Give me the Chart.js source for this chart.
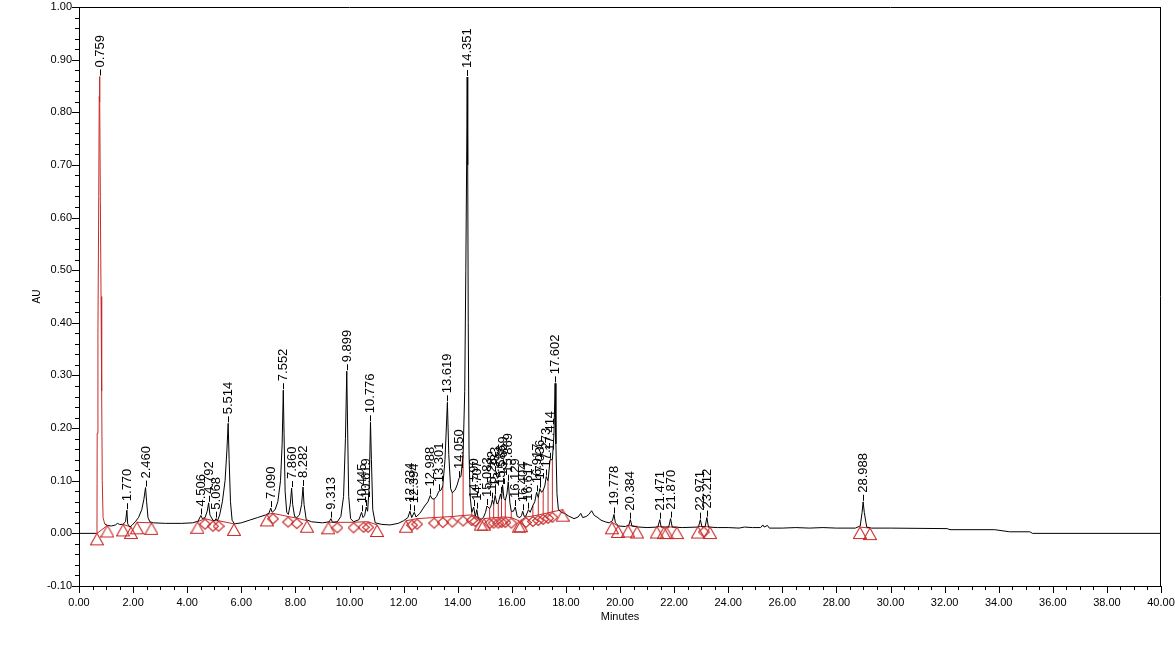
<!DOCTYPE html>
<html><head><meta charset="utf-8">
<script src="https://cdn.jsdelivr.net/npm/chart.js@4.4.1/dist/chart.umd.min.js"></script>
<style>html,body{margin:0;padding:0;background:#fff;overflow:hidden}#wrap{width:1175px;height:649px}</style>
</head><body><div id="wrap"><canvas id="c" width="1175" height="649"></canvas></div>
<script>
// ---- trace (Minutes, AU) ----
const traceT = [0.00,0.64,0.665,0.672,0.70,0.73,0.748,0.759,0.772,0.79,0.815,0.838,0.86,0.89,0.95,1.05,1.20,1.35,1.42,1.50,1.62,1.72,1.770,1.80,1.88,1.97,2.08,2.20,2.32,2.40,2.460,2.50,2.55,2.62,2.75,3.20,3.80,4.20,4.40,4.506,4.56,4.66,4.74,4.792,4.84,4.95,5.02,5.068,5.12,5.20,5.30,5.40,5.47,5.514,5.55,5.60,5.66,5.75,6.00,6.30,6.60,6.90,7.02,7.090,7.14,7.25,7.35,7.45,7.51,7.552,7.58,7.62,7.68,7.74,7.81,7.860,7.90,7.97,8.05,8.15,8.23,8.282,8.32,8.40,8.60,9.00,9.25,9.313,9.37,9.55,9.68,9.78,9.85,9.899,9.93,9.97,10.04,10.15,10.35,10.445,10.50,10.56,10.619,10.67,10.73,10.776,10.81,10.86,10.95,11.20,11.50,11.80,12.00,12.16,12.234,12.30,12.394,12.46,12.60,12.78,12.90,12.988,13.05,13.13,13.22,13.301,13.38,13.45,13.53,13.619,13.67,13.74,13.80,13.90,13.98,14.050,14.12,14.20,14.26,14.30,14.33,14.351,14.37,14.39,14.42,14.46,14.52,14.590,14.65,14.707,14.76,14.85,14.95,15.03,15.083,15.18,15.23,15.282,15.33,15.383,15.45,15.50,15.586,15.62,15.659,15.71,15.76,15.82,15.869,15.93,15.98,16.06,16.129,16.20,16.30,16.36,16.404,16.46,16.52,16.617,16.68,16.78,16.85,16.917,16.98,17.036,17.10,17.16,17.22,17.273,17.34,17.414,17.50,17.56,17.602,17.63,17.67,17.72,17.82,17.95,18.10,18.30,18.45,18.55,18.62,18.75,18.85,18.95,19.05,19.15,19.30,19.45,19.60,19.72,19.778,19.83,19.95,20.20,20.33,20.384,20.44,20.70,21.00,21.40,21.471,21.52,21.80,21.870,21.93,22.30,22.90,22.971,23.03,23.15,23.212,23.27,23.60,24.00,24.40,24.60,24.90,25.20,25.28,25.33,25.45,25.52,26.00,26.50,27.00,27.50,28.00,28.70,28.88,28.95,28.988,29.03,29.12,29.30,30.00,32.10,32.20,33.85,34.40,35.15,35.25,40.00];
const traceV = [0.000,0.000,0.008,0.190,0.380,0.640,0.830,0.868,0.820,0.630,0.450,0.270,0.100,0.030,0.018,0.015,0.014,0.016,0.019,0.017,0.017,0.022,0.044,0.018,0.012,0.016,0.022,0.030,0.045,0.065,0.087,0.060,0.030,0.022,0.020,0.019,0.019,0.020,0.023,0.034,0.028,0.030,0.042,0.058,0.035,0.025,0.024,0.028,0.024,0.035,0.060,0.100,0.160,0.209,0.140,0.060,0.025,0.018,0.020,0.025,0.030,0.035,0.038,0.048,0.040,0.045,0.060,0.100,0.170,0.272,0.190,0.080,0.040,0.036,0.055,0.086,0.055,0.032,0.030,0.035,0.055,0.088,0.055,0.026,0.022,0.020,0.022,0.028,0.021,0.022,0.032,0.070,0.180,0.308,0.200,0.070,0.028,0.022,0.026,0.040,0.030,0.034,0.050,0.042,0.090,0.211,0.140,0.045,0.020,0.017,0.016,0.019,0.024,0.030,0.042,0.030,0.040,0.031,0.038,0.052,0.060,0.072,0.066,0.065,0.070,0.080,0.082,0.090,0.140,0.249,0.150,0.085,0.077,0.082,0.092,0.105,0.108,0.150,0.270,0.500,0.700,0.867,0.700,0.400,0.150,0.070,0.040,0.050,0.032,0.045,0.028,0.026,0.030,0.040,0.052,0.047,0.052,0.064,0.055,0.072,0.056,0.058,0.075,0.065,0.092,0.066,0.063,0.075,0.098,0.058,0.042,0.042,0.050,0.032,0.030,0.034,0.042,0.032,0.033,0.045,0.040,0.053,0.060,0.078,0.068,0.085,0.078,0.082,0.090,0.108,0.100,0.140,0.140,0.190,0.285,0.170,0.075,0.046,0.040,0.038,0.033,0.028,0.031,0.038,0.030,0.032,0.036,0.043,0.034,0.031,0.025,0.022,0.020,0.024,0.036,0.020,0.014,0.013,0.016,0.026,0.014,0.012,0.011,0.012,0.026,0.012,0.012,0.028,0.012,0.011,0.012,0.026,0.012,0.013,0.030,0.012,0.011,0.011,0.010,0.012,0.011,0.011,0.016,0.012,0.015,0.010,0.010,0.011,0.010,0.011,0.010,0.010,0.014,0.040,0.060,0.040,0.012,0.010,0.010,0.009,0.007,0.007,0.003,0.003,0.000,0.000];

// ---- peak labels ----
const peakNames = ["0.759","1.770","2.460","4.506","4.792","5.068","5.514","7.090","7.552","7.860","8.282","9.313","9.899","10.445","10.619","10.776","12.234","12.394","12.988","13.301","13.619","14.050","14.351","14.590","14.707","15.083","15.282","15.383","15.586","15.659","15.869","16.129","16.404","16.617","16.917","17.036","17.273","17.414","17.602","19.778","20.384","21.471","21.870","22.971","23.212","28.988"];
const peakHeights = [0.868,0.044,0.087,0.034,0.058,0.028,0.209,0.048,0.272,0.086,0.088,0.028,0.308,0.040,0.050,0.211,0.042,0.040,0.072,0.080,0.249,0.105,0.867,0.050,0.045,0.052,0.064,0.072,0.075,0.092,0.098,0.050,0.042,0.045,0.078,0.085,0.108,0.140,0.285,0.036,0.026,0.026,0.028,0.026,0.030,0.060];

// ---- integration marks ----
const markT = [0.665,1.05,1.63,1.92,2.14,2.68,4.38,4.66,4.95,5.16,5.73,6.95,7.17,7.73,8.05,8.43,9.22,9.55,10.15,10.52,10.69,11.02,12.09,12.31,12.50,13.13,13.45,13.80,14.20,14.52,14.65,14.85,14.97,15.18,15.33,15.50,15.62,15.76,15.98,16.26,16.34,16.52,16.78,16.98,17.16,17.34,17.50,17.88,19.70,19.93,20.30,20.63,21.36,21.62,21.72,22.10,22.88,23.10,23.33,28.87,29.24];
const markV = [0.000,0.015,0.017,0.012,0.021,0.020,0.022,0.028,0.024,0.024,0.018,0.036,0.038,0.032,0.029,0.024,0.021,0.021,0.021,0.022,0.022,0.016,0.024,0.026,0.028,0.030,0.031,0.032,0.034,0.035,0.033,0.028,0.028,0.029,0.030,0.030,0.031,0.031,0.030,0.024,0.025,0.031,0.033,0.035,0.037,0.039,0.041,0.045,0.021,0.014,0.015,0.013,0.013,0.012,0.012,0.012,0.013,0.013,0.012,0.012,0.010];
const markShape = ["T","T","T","T","T","T","T","D","D","D","T","T","D","D","D","T","T","D","D","D","D","T","T","D","D","D","D","D","D","D","D","T","T","D","D","D","D","D","D","T","T","D","D","D","D","D","D","T","T","T","T","T","T","T","T","T","T","D","T","T","T"];
const dropT   = [13.13,13.45,13.80,14.20,14.52,15.18,15.33,15.50,15.62,15.76,15.98,16.52,16.78,16.98,17.16,17.34,17.50];
const dropTop = [0.065,0.090,0.077,0.150,0.040,0.047,0.055,0.058,0.065,0.063,0.042,0.033,0.053,0.068,0.082,0.100,0.140];
const dropBot = [0.030,0.031,0.032,0.034,0.035,0.029,0.030,0.030,0.031,0.031,0.030,0.031,0.033,0.035,0.037,0.039,0.041];

const FONT = "'Liberation Sans', Arial, sans-serif";
const RED = 'rgb(200,40,40)';
const RED_PEAK = [0.60, 1.00];

const traceData = traceT.map((t,i)=>({x:t,y:traceV[i]}));
const triData = [], diaData = [], baseData = [];
let open = false;
markT.forEach((t,i)=>{
  const p = {x:t,y:markV[i]};
  if (markShape[i]==='T') triData.push(p); else diaData.push(p);
  baseData.push(p);
  if (markShape[i]==='T') {
    if (open) { baseData.push({x:t+0.0001,y:null}); open=false; } else open = true;
  }
});
const dropData = [];
dropT.forEach((t,i)=>{ dropData.push({x:t,y:dropBot[i]}); dropData.push({x:t,y:dropTop[i]}); dropData.push({x:t+0.00001,y:null}); });

function makeTri(){
  const c=document.createElement('canvas'); c.width=14; c.height=26;
  const g=c.getContext('2d'); g.strokeStyle=RED; g.lineWidth=1.1;
  g.beginPath(); g.moveTo(7,13); g.lineTo(13.5,24.5); g.lineTo(0.5,24.5); g.closePath(); g.stroke();
  return c;
}
function makeDia(){
  const c=document.createElement('canvas'); c.width=12; c.height=24;
  const g=c.getContext('2d'); g.strokeStyle=RED; g.lineWidth=1.1;
  g.beginPath(); g.moveTo(6,12.5); g.lineTo(11.5,17.5); g.lineTo(6,22.5); g.lineTo(0.5,17.5); g.closePath(); g.stroke();
  return c;
}

const framePlugin = {
  id:'frame',
  afterDraw(chart){
    const {ctx, chartArea:a, scales:{x,y}} = chart;
    ctx.save();
    ctx.strokeStyle='#000'; ctx.lineWidth=1;
    ctx.beginPath();
    ctx.moveTo(a.left, a.top+0.5); ctx.lineTo(a.right, a.top+0.5);
    ctx.moveTo(a.right-0.5, a.top); ctx.lineTo(a.right-0.5, a.bottom);
    ctx.stroke();
    ctx.beginPath();
    for (let k=0;k<=55;k++){
      const v=-0.1+k*0.02; const py=Math.round(y.getPixelForValue(v))+0.5;
      const len = (k%5===0)?7:4;
      ctx.moveTo(a.left-len, py); ctx.lineTo(a.left, py);
    }
    for (let k=0;k<=80;k++){
      const v=k*0.5; const px=Math.round(x.getPixelForValue(v))+0.5;
      const len = (k%4===0)?7:4;
      ctx.moveTo(px, a.bottom); ctx.lineTo(px, a.bottom+len);
    }
    ctx.stroke();
    ctx.restore();
  }
};
const labelPlugin = {
  id:'peaklabels',
  afterDatasetsDraw(chart){
    const {ctx, scales:{x,y}} = chart;
    ctx.save();
    ctx.fillStyle='#000'; ctx.strokeStyle='#000'; ctx.lineWidth=1;
    ctx.font = '13px ' + FONT;
    peakNames.forEach((name,i)=>{
      const t=parseFloat(name);
      const px=Math.round(x.getPixelForValue(t))+0.5;
      const py=y.getPixelForValue(peakHeights[i]);
      ctx.beginPath(); ctx.moveTo(px,py-1); ctx.lineTo(px,py-7); ctx.stroke();
      ctx.save(); ctx.translate(px-0.5, py-9); ctx.rotate(-Math.PI/2);
      ctx.textAlign='left'; ctx.textBaseline='middle';
      ctx.fillText(name,0,0); ctx.restore();
    });
    ctx.restore();
  }
};

new Chart(document.getElementById('c'), {
  type:'scatter',
  data:{datasets:[
    {label:'baseline', data:baseData, showLine:true, spanGaps:false, borderColor:RED, borderWidth:1, pointRadius:0, order:5},
    {label:'drops', data:dropData, showLine:true, spanGaps:false, borderColor:RED, borderWidth:1, pointRadius:0, order:4},
    {label:'trace', data:traceData, showLine:true, borderColor:'#000', borderWidth:1, pointRadius:0, tension:0, order:3,
      segment:{borderColor:c=> (c.p0.parsed.x>=RED_PEAK[0] && c.p1.parsed.x<=RED_PEAK[1]) ? RED : '#000'}},
    {label:'tri', data:triData, showLine:false, pointStyle:makeTri(), pointRadius:6, order:2},
    {label:'dia', data:diaData, showLine:false, pointStyle:makeDia(), pointRadius:6, order:1}
  ]},
  options:{
    responsive:false, animation:false, devicePixelRatio:1,
    layout:{padding:{top:7,right:14,left:0,bottom:0}},
    plugins:{legend:{display:false}, tooltip:{enabled:false}},
    scales:{
      x:{type:'linear', min:0, max:40,
        ticks:{stepSize:2, autoSkip:false, maxRotation:0, padding:10, color:'#000', font:{family:FONT,size:11},
          callback:v=>v.toFixed(2)},
        grid:{display:false, drawTicks:false, tickLength:0}, border:{display:true,color:'#000',width:1},
        title:{display:true, text:'Minutes', color:'#000', font:{family:FONT,size:11}, padding:{top:0,bottom:25}},
        afterFit:s=>{s.height=63; s.paddingLeft=0; s.paddingRight=0;}},
      y:{type:'linear', min:-0.1, max:1.0,
        ticks:{stepSize:0.1, autoSkip:false, padding:7, color:'#000', font:{family:FONT,size:11},
          callback:v=>(Math.abs(v)<1e-9?0:v).toFixed(2)},
        grid:{display:false, drawTicks:false, tickLength:0}, border:{display:true,color:'#000',width:1},
        title:{display:true, text:'AU', color:'#000', font:{family:FONT,size:10}, padding:{top:31,bottom:0}},
        afterFit:s=>{s.width=79; s.paddingTop=0; s.paddingBottom=0;}}
    }
  },
  plugins:[framePlugin, labelPlugin]
});
</script></body></html>
